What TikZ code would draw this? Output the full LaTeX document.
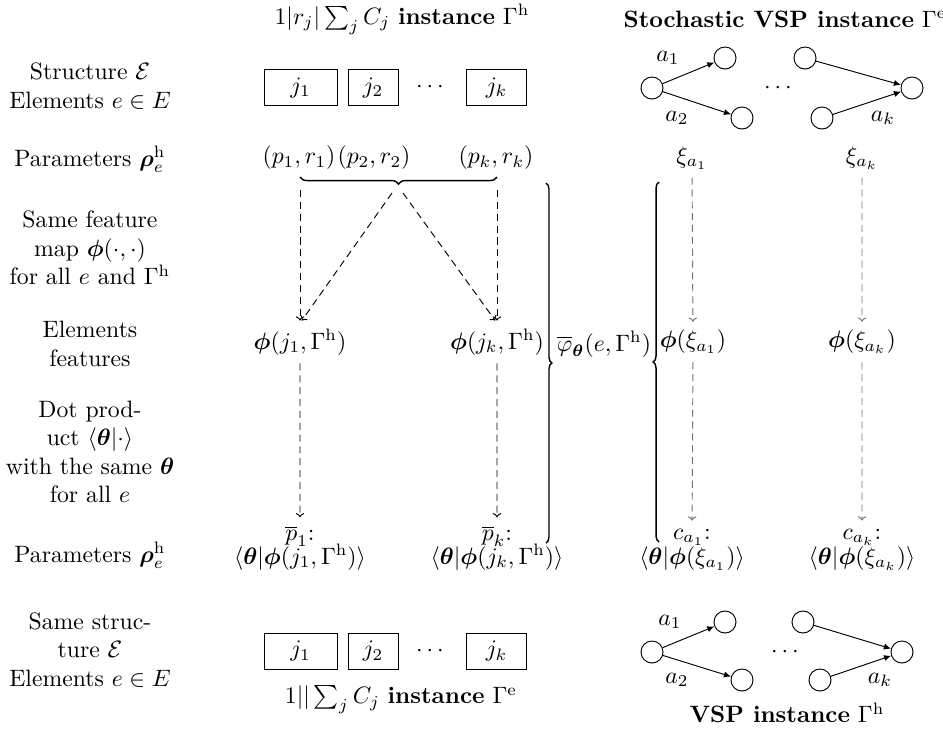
\documentclass[tikz,border=0pt]{standalone}
\usepackage{tikz}
\usepackage{amsfonts}
\usepackage{amsmath}
\usepackage{amssymb}
\usetikzlibrary{decorations.pathreplacing,arrows.meta}

\begin{document}
\begin{tikzpicture}[scale=0.1483]
\tikzstyle{job}=[draw, minimum height=15.2pt]
\tikzstyle{vtx}=[draw, circle, minimum size=9.3pt, inner sep=0pt]
\tikzstyle{lbl}=[align=center]
\tikzstyle{ttl}=[inner sep=0pt]
\tikzstyle{feat}=[densely dashed, -{To[length=1.8pt,width=3.6pt]}]
\tikzstyle{featg}=[densely dashed, -{To[length=1.8pt,width=3.6pt]}, black!55]
\tikzstyle{vsparc}=[-{Latex[length=3pt,width=2.6pt]}]
\tikzstyle{brc}=[decorate, semithick]
\useasboundingbox (0,0) rectangle (94.3,-73.0);
\node[ttl] (title1) at (40.2,-1.95) {$1|r_j|\sum_j C_j$ \textbf{instance} $\Gamma^{\mathrm{h}}$};
\node[ttl] (title2) at (78.5,-1.9) {\textbf{Stochastic VSP instance} $\Gamma^{\mathrm{e}}$};
\node[lbl] (lab1) at (9.0,-8.6) {Structure $\mathcal{E}$\\Elements $e\in E$};
\node[lbl] (lab2) at (9.0,-15.9) {Parameters $\boldsymbol{\rho}_e^{\mathrm{h}}$};
\node[lbl] (lab3) at (9.0,-24.8) {Same feature\\map $\boldsymbol{\phi}(\cdot,\cdot)$\\for all $e$ and $\Gamma^{\mathrm{h}}$};
\node[lbl] (lab4) at (9.0,-34.4) {Elements\\features};
\node[lbl] (lab5) at (9.0,-45.2) {Dot prod-\\uct $\langle\boldsymbol{\theta}|\cdot\rangle$\\with the same $\boldsymbol{\theta}$\\for all $e$};
\node[lbl] (lab6) at (9.0,-55.5) {Parameters $\boldsymbol{\rho}_e^{\mathrm{h}}$};
\node[lbl] (lab7) at (9.0,-65.0) {Same struc-\\ture $\mathcal{E}$\\Elements $e\in E$};
\node[job, minimum width=30.8pt] (j1) at (30.05,-8.75) {$j_1$};
\node[job, minimum width=21.1pt] (j2) at (37.3,-8.75) {$j_2$};
\node (jdots) at (43.2,-8.75) {$\cdots$};
\node[job, minimum width=25.3pt] (jk) at (49.65,-8.75) {$j_k$};
\node (pr1) at (29.9,-15.8) {$(p_1,r_1)$};
\node (pr2) at (37.4,-15.8) {$(p_2,r_2)$};
\node (prk) at (49.6,-15.8) {$(p_k,r_k)$};
\coordinate (bl) at (30.0,-17.7);
\coordinate (br) at (49.7,-17.7);
\draw[brc, decoration={brace, mirror, amplitude=3pt}] (bl) -- (br);
\node (phi1) at (30.0,-34.2) {$\boldsymbol{\phi}(j_1,\Gamma^{\mathrm{h}})$};
\node (phik) at (49.7,-34.2) {$\boldsymbol{\phi}(j_k,\Gamma^{\mathrm{h}})$};
\node[lbl] (pbar1) at (30.0,-54.8) {$\overline{p}_1$:\\[-2pt]$\langle\boldsymbol{\theta}|\boldsymbol{\phi}(j_1,\Gamma^{\mathrm{h}})\rangle$};
\node[lbl] (pbark) at (49.7,-54.8) {$\overline{p}_k$:\\[-2pt]$\langle\boldsymbol{\theta}|\boldsymbol{\phi}(j_k,\Gamma^{\mathrm{h}})\rangle$};
\coordinate (d1) at (30.0,-19.0);
\coordinate (dk) at (49.7,-19.0);
\coordinate (m1) at (39.2,-19.3);
\coordinate (m2) at (40.3,-19.3);
\draw[feat] (d1) -- (d1 |- phi1.north);
\draw[feat] (m1) -- ([xshift=5pt]phi1.north);
\draw[feat] (m2) -- ([xshift=-5pt]phik.north);
\draw[feat] (dk) -- (dk |- phik.north);
\draw[feat] (phi1) -- (pbar1);
\draw[feat] (phik) -- (pbark);
\coordinate (b1t) at (54.6,-18.3);
\coordinate (b1b) at (54.6,-54.3);
\draw[brc, decoration={brace, amplitude=2.5pt}] (b1t) -- (b1b);
\node (phibar) at (60.4,-34.4) {$\overline{\varphi}_{\boldsymbol{\theta}}(e,\Gamma^{\mathrm{h}})$};
\coordinate (b2t) at (65.9,-18.2);
\coordinate (b2b) at (65.9,-54.2);
\draw[brc, decoration={brace, amplitude=2.5pt}] (b2b) -- (b2t);
\node (xi1) at (69.2,-15.8) {$\xi_{a_1}$};
\node (xik) at (86.2,-15.8) {$\xi_{a_k}$};
\node (phix1) at (69.3,-34.2) {$\boldsymbol{\phi}(\xi_{a_1})$};
\node (phixk) at (86.2,-34.2) {$\boldsymbol{\phi}(\xi_{a_k})$};
\node[lbl] (c1) at (69.2,-54.95) {$c_{a_1}$:\\[-1.5pt]$\langle\boldsymbol{\theta}|\boldsymbol{\phi}(\xi_{a_1})\rangle$};
\node[lbl] (ck) at (86.2,-54.95) {$c_{a_k}$:\\[-1.5pt]$\langle\boldsymbol{\theta}|\boldsymbol{\phi}(\xi_{a_k})\rangle$};
\draw[featg] (xi1) -- (phix1);
\draw[featg] (xik) -- (phixk);
\draw[featg] (phix1) -- (c1);
\draw[featg] (phixk) -- (ck);
\node[vtx] (s1) at (65.2,-8.8) {};
\node[vtx] (u1) at (72.5,-5.8) {};
\node[vtx] (v1) at (74.2,-11.8) {};
\node[vtx] (u2) at (80.5,-5.8) {};
\node[vtx] (v2) at (82.2,-11.8) {};
\node[vtx] (t1) at (91.2,-8.8) {};
\node (la1) at (66.8,-5.8) {$a_1$};
\node (la2) at (67.7,-11.8) {$a_2$};
\node (lak) at (88.3,-11.8) {$a_k$};
\node (gdots1) at (78.0,-8.8) {$\cdots$};
\draw[vsparc] (s1) -- (u1);
\draw[vsparc] (s1) -- (v1);
\draw[vsparc] (u2) -- (t1);
\draw[vsparc] (v2) -- (t1);
\node[job, minimum width=30.8pt] (bj1) at (30.05,-65.1) {$j_1$};
\node[job, minimum width=21.1pt] (bj2) at (37.3,-65.1) {$j_2$};
\node (bjdots) at (43.2,-65.1) {$\cdots$};
\node[job, minimum width=25.3pt] (bjk) at (49.65,-65.1) {$j_k$};
\node[ttl] (title3) at (40.1,-70.0) {$1||\sum_j C_j$ \textbf{instance} $\Gamma^{\mathrm{e}}$};
\node[vtx] (s2) at (65.2,-65.2) {};
\node[vtx] (u3) at (72.5,-62.2) {};
\node[vtx] (v3) at (74.2,-68.0) {};
\node[vtx] (u4) at (80.3,-62.2) {};
\node[vtx] (v4) at (82.0,-68.0) {};
\node[vtx] (t2) at (90.2,-65.2) {};
\node (lb1) at (67.0,-62.2) {$a_1$};
\node (lb2) at (67.7,-68.0) {$a_2$};
\node (lbk) at (88.0,-68.0) {$a_k$};
\node (gdots2) at (78.7,-65.2) {$\cdots$};
\draw[vsparc] (s2) -- (u3);
\draw[vsparc] (s2) -- (v3);
\draw[vsparc] (u4) -- (t2);
\draw[vsparc] (v4) -- (t2);
\node[ttl] (title4) at (78.7,-71.3) {\textbf{VSP instance} $\Gamma^{\mathrm{h}}$};
\end{tikzpicture}
\end{document}
